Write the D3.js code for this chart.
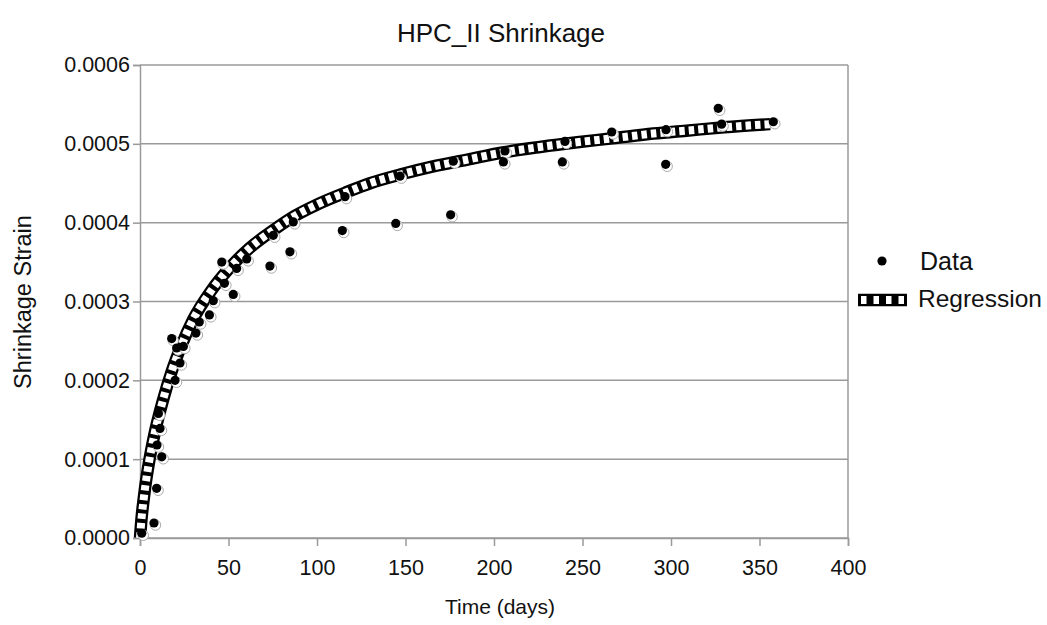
<!DOCTYPE html>
<html>
<head>
<meta charset="utf-8">
<script src="https://cdn.jsdelivr.net/npm/d3@7"></script>
<style>
  body { margin: 0; background: #fff; }
  svg { display: block; font-family: "Liberation Sans", Arial, Helvetica, sans-serif; }
</style>
</head>
<body>
<svg id="chart" width="1047" height="625"></svg>
<script>
const dataDays = [1, 7.9, 9.4, 9.6, 10.4, 11.3, 12.3, 17.9, 19.8, 20.7, 22.6, 24.5, 31.6, 33.5, 39.2, 41.4,
  46.2, 47.7, 52.7, 54.6, 60.3, 73.4, 75.3, 84.7, 86.6, 114.3, 115.8, 144.5, 146.9, 175.5, 177,
  205.3, 206.2, 238.6, 240.1, 266.5, 297, 297.2, 326.7, 328.6, 357.8];
const dataStrain = [0.000006, 0.000019, 0.000063, 0.000118, 0.000158, 0.000139, 0.000103, 0.000253, 0.0002, 0.000241,
  0.000222, 0.000243, 0.00026, 0.000274, 0.000283, 0.000301, 0.00035, 0.000323, 0.000309, 0.000342,
  0.000354, 0.000345, 0.000384, 0.000363, 0.000401, 0.00039, 0.000433, 0.000399, 0.000459, 0.00041,
  0.000478, 0.000477, 0.000491, 0.000477, 0.000503, 0.000515, 0.000474, 0.000518, 0.000545, 0.000525, 0.000528];

// regression curve
const regDays = [0, 1, 2, 3, 5, 8, 13, 18, 23, 30, 40, 50, 62, 75, 87, 100, 117, 130, 147, 165, 185, 205, 226, 247, 267, 290, 310, 330, 356];
const regStrain = [0, 0.000028, 0.000048, 0.000066, 0.000095, 0.00013, 0.000175, 0.000212, 0.000242, 0.000277,
  0.000313, 0.000341, 0.000368, 0.00039, 0.000408, 0.000423, 0.000439, 0.00045, 0.000461, 0.000471,
  0.00048, 0.000489, 0.000496, 0.000502, 0.000507, 0.000513, 0.000517, 0.000521, 0.000525];

const xTicks = [0, 50, 100, 150, 200, 250, 300, 350, 400];
const yTicks = [0, 0.0001, 0.0002, 0.0003, 0.0004, 0.0005, 0.0006];

const svg = d3.select("#chart");

const x = d3.scaleLinear().domain([0, 400]).range([140, 848]);
const y = d3.scaleLinear().domain([0, 0.0006]).range([538, 65]);

const gridColor = "#9a9a9a";

// horizontal gridlines
svg.append("g")
  .selectAll("line")
  .data(yTicks)
  .join("line")
  .attr("x1", x(0)).attr("x2", x(400))
  .attr("y1", d => y(d)).attr("y2", d => y(d))
  .attr("stroke", gridColor)
  .attr("stroke-width", 1.5);

// right border
svg.append("line")
  .attr("x1", x(400)).attr("x2", x(400))
  .attr("y1", y(0)).attr("y2", y(0.0006))
  .attr("stroke", gridColor)
  .attr("stroke-width", 1.5);

const xAxis = svg.append("g")
  .attr("transform", `translate(0,${y(0)})`)
  .call(d3.axisBottom(x).tickValues(xTicks).tickSize(8).tickPadding(14).tickFormat(d3.format("d")));

const yAxis = svg.append("g")
  .attr("transform", `translate(${x(0)},0)`)
  .call(d3.axisLeft(y).tickValues(yTicks).tickSize(7).tickPadding(3).tickFormat(d3.format(".4f")));

[xAxis, yAxis].forEach(g => {
  g.select(".domain").attr("stroke", gridColor).attr("stroke-width", 1.5);
  g.selectAll(".tick line").attr("stroke", gridColor).attr("stroke-width", 1.5);
  g.selectAll(".tick text").attr("fill", "#111").style("font-size", "21.5px");
});

// regression ladder line
const reg = regDays.map((d, i) => [d, regStrain[i]]);
const line = d3.line()
  .x(d => x(d[0]))
  .y(d => y(d[1]))
  .curve(d3.curveMonotoneX);

svg.append("path")
  .datum(reg)
  .attr("d", line)
  .attr("fill", "none")
  .attr("stroke", "#000")
  .attr("stroke-width", 12.5);

svg.append("path")
  .datum(reg)
  .attr("d", line)
  .attr("fill", "none")
  .attr("stroke", "#fff")
  .attr("stroke-width", 8)
  .attr("stroke-dasharray", "5.5,4");

// data points, with the little white shadow
const pts = dataDays.map((d, i) => [d, dataStrain[i]]);
const ptG = svg.append("g");
ptG.selectAll("circle.shadow")
  .data(pts)
  .join("circle")
  .attr("class", "shadow")
  .attr("cx", d => x(d[0]) + 1.5)
  .attr("cy", d => y(d[1]) + 2)
  .attr("r", 5.2)
  .attr("fill", "#fff")
  .attr("stroke", "#aaa")
  .attr("stroke-width", 1);
ptG.selectAll("circle.dot")
  .data(pts)
  .join("circle")
  .attr("class", "dot")
  .attr("cx", d => x(d[0]))
  .attr("cy", d => y(d[1]))
  .attr("r", 4.6)
  .attr("fill", "#000");

// titles
svg.append("text")
  .attr("x", 501)
  .attr("y", 42)
  .attr("text-anchor", "middle")
  .style("font-size", "26px")
  .attr("fill", "#111")
  .text("HPC_II Shrinkage");

svg.append("text")
  .attr("x", 500)
  .attr("y", 614)
  .attr("text-anchor", "middle")
  .style("font-size", "21px")
  .attr("fill", "#111")
  .text("Time (days)");

svg.append("text")
  .attr("transform", "translate(31,302) rotate(-90)")
  .attr("text-anchor", "middle")
  .style("font-size", "23.5px")
  .attr("fill", "#111")
  .text("Shrinkage Strain");

// legend
const legend = svg.append("g");
legend.append("circle")
  .attr("cx", 882).attr("cy", 261).attr("r", 4.6).attr("fill", "#000");
legend.append("text")
  .attr("x", 920).attr("y", 270)
  .style("font-size", "25px")
  .attr("fill", "#111")
  .text("Data");

legend.append("line")
  .attr("x1", 858).attr("x2", 907).attr("y1", 300).attr("y2", 300)
  .attr("stroke", "#000").attr("stroke-width", 12.5);
legend.append("line")
  .attr("x1", 858).attr("x2", 907).attr("y1", 300).attr("y2", 300)
  .attr("stroke", "#fff").attr("stroke-width", 8)
  .attr("stroke-dasharray", "0,3,5.5,4");
legend.append("text")
  .attr("x", 918).attr("y", 307)
  .style("font-size", "24.5px")
  .attr("fill", "#111")
  .text("Regression");
</script>
</body>
</html>
